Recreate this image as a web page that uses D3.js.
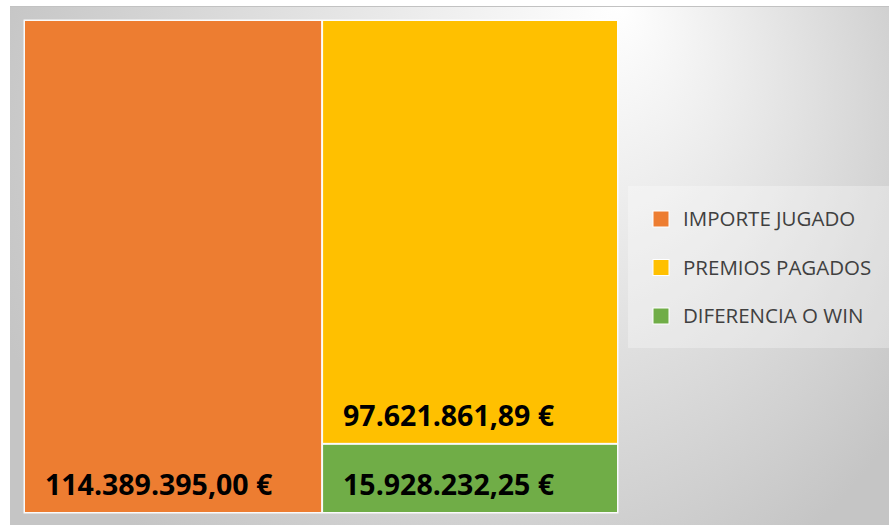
<!DOCTYPE html>
<html>
<head>
<meta charset="utf-8">
<script src="https://cdnjs.cloudflare.com/ajax/libs/d3/7.8.5/d3.min.js"></script>
<style>
  body { margin: 0; background: #fff; }
  svg { display: block; }
</style>
</head>
<body>
<svg id="chart" width="889" height="525"></svg>
<script>
const categories = ["IMPORTE JUGADO", "PREMIOS PAGADOS", "DIFERENCIA O WIN"];
const values = [114389395.00, 97621861.89, 15928232.25];
const colors = ["#ED7D31", "#FFC000", "#70AD47"];

const width = 889, height = 525;
const svg = d3.select("#chart");

// fondo degradado
const defs = svg.append("defs");
const grad = defs.append("radialGradient")
    .attr("id", "bg")
    .attr("gradientUnits", "userSpaceOnUse")
    .attr("cx", 475).attr("cy", 155).attr("r", 503)
    .attr("fx", 620).attr("fy", 5);
grad.append("stop").attr("offset", "0%").attr("stop-color", "#ffffff");
grad.append("stop").attr("offset", "100%").attr("stop-color", "#c5c5c5");

svg.append("rect")
    .attr("x", 10).attr("y", 6)
    .attr("width", width - 10).attr("height", height - 6)
    .attr("fill", "url(#bg)");
svg.append("line")
    .attr("x1", 10).attr("x2", width)
    .attr("y1", 6.5).attr("y2", 6.5)
    .attr("stroke", "#c2c2c2");

// treemap
const fmt = d3.formatLocale({ decimal: ",", thousands: ".", grouping: [3], currency: ["", " €"] }).format("$,.2f");

const root = d3.hierarchy({ children: categories.map((c, i) => ({ name: c, value: values[i], color: colors[i] })) })
    .sum(d => d.value || 0);

d3.treemap()
    .tile(d3.treemapBinary)
    .size([592, 491])
    .paddingInner(2)(root);

const g = svg.append("g").attr("transform", "translate(25,21)");

g.append("rect")
    .attr("x", -1.5).attr("y", -1.5)
    .attr("width", 595).attr("height", 494)
    .attr("fill", "#fff").attr("opacity", 0.9);

const cell = g.selectAll("g.cell")
    .data(root.leaves())
    .join("g")
    .attr("class", "cell");

cell.append("rect")
    .attr("x", d => d.x0)
    .attr("y", d => d.y0)
    .attr("width", d => d.x1 - d.x0)
    .attr("height", d => d.y1 - d.y0)
    .attr("fill", d => d.data.color);

cell.append("text")
    .attr("x", d => d.x0 + 20)
    .attr("y", d => d.y1 - 17)
    .attr("font-family", "'Open Sans', sans-serif")
    .attr("font-weight", "bold")
    .attr("font-size", 28.5)
    .attr("fill", "#000")
    .text(d => fmt(d.data.value));

// leyenda
const legend = svg.append("g");
legend.append("rect")
    .attr("x", 628).attr("y", 186)
    .attr("width", width - 628).attr("height", 162)
    .attr("fill", "#fff").attr("opacity", 0.3);

const item = legend.selectAll("g.item")
    .data(categories)
    .join("g")
    .attr("class", "item")
    .attr("transform", (d, i) => `translate(653, ${219 + i * 48.5})`);

item.append("rect")
    .attr("x", 0).attr("y", -8)
    .attr("width", 16).attr("height", 16)
    .attr("fill", (d, i) => colors[i])
    .attr("stroke", "#fff").attr("stroke-width", 1);

item.append("text")
    .attr("x", 30).attr("y", 7)
    .attr("font-family", "'Open Sans', sans-serif")
    .attr("font-size", 20.5)
    .attr("fill", "#404040")
    .text(d => d);
</script>
</body>
</html>
